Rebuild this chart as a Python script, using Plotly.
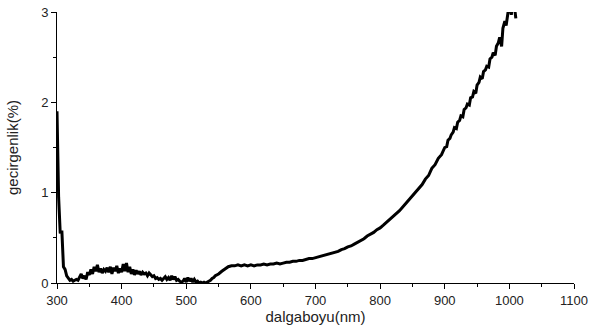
import numpy as np
import plotly.graph_objects as go

# wavelength grid (nm) for the noisy UV/visible part, step 2.5 nm
wl_low = [300 + 2.5 * i for i in range(100)]
tr_low = [1.90, 0.95, 0.55, 0.58, 0.18, 0.15, 0.08, 0.05, 0.03, 0.04,
          0.02, 0.03, 0.04, 0.03, 0.06, 0.10, 0.05, 0.08, 0.04, 0.12,
          0.09, 0.15, 0.10, 0.18, 0.13, 0.20, 0.12, 0.16, 0.11, 0.15,
          0.13, 0.17, 0.12, 0.18, 0.10, 0.17, 0.13, 0.19, 0.11, 0.16,
          0.12, 0.21, 0.13, 0.22, 0.12, 0.18, 0.10, 0.15, 0.09, 0.14,
          0.10, 0.13, 0.09, 0.12, 0.10, 0.11, 0.08, 0.11, 0.09, 0.07,
          0.08, 0.05, 0.06, 0.04, 0.05, 0.03, 0.05, 0.07, 0.04, 0.06,
          0.03, 0.08, 0.04, 0.07, 0.03, 0.04, 0.02, 0.01, 0.02, 0.05,
          0.01, 0.06, 0.02, 0.05, 0.01, 0.04, 0.01, 0.02, 0.00, 0.01,
          0.00, 0.01, 0.00, 0.01, 0.02, 0.03, 0.05, 0.06, 0.08, 0.09]

# smoother visible / NIR part
wl_high = [550, 555, 560, 565, 570, 575, 580, 585, 590, 595,
           600, 605, 610, 615, 620, 625, 630, 635, 640, 645,
           650, 655, 660, 665, 670, 675, 680, 685, 690, 695,
           700, 705, 710, 715, 720, 725, 730, 735, 740, 745,
           750, 755, 760, 765, 770, 775, 780, 785, 790, 795,
           800, 805, 810, 815, 820, 825, 830, 835, 840, 845,
           850, 855, 860, 865, 870, 875, 880, 885, 890, 895,
           900, 903, 905, 908, 910, 913, 915, 918, 920, 923,
           925, 928, 930, 933, 935, 938, 940, 943, 945, 948,
           950, 953, 955, 958, 960, 963, 965, 968, 970, 973,
           975, 978, 980, 983, 985, 988, 990, 993, 995, 998,
           1000, 1003, 1005, 1008, 1010]
tr_high = [0.10, 0.13, 0.16, 0.18, 0.19, 0.19, 0.20, 0.19, 0.20, 0.19,
           0.20, 0.19, 0.20, 0.20, 0.21, 0.20, 0.21, 0.21, 0.22, 0.21,
           0.22, 0.23, 0.23, 0.24, 0.24, 0.25, 0.25, 0.26, 0.27, 0.27,
           0.28, 0.29, 0.30, 0.31, 0.32, 0.33, 0.34, 0.35, 0.37, 0.38,
           0.40, 0.41, 0.43, 0.45, 0.47, 0.49, 0.52, 0.54, 0.56, 0.59,
           0.61, 0.64, 0.67, 0.70, 0.73, 0.77, 0.80, 0.84, 0.88, 0.92,
           0.96, 1.00, 1.05, 1.09, 1.15, 1.19, 1.27, 1.31, 1.38, 1.42,
           1.50, 1.51, 1.58, 1.60, 1.64, 1.67, 1.72, 1.71, 1.78, 1.80,
           1.85, 1.84, 1.92, 1.94, 1.98, 1.97, 2.05, 2.06, 2.12, 2.10,
           2.19, 2.22, 2.28, 2.26, 2.34, 2.36, 2.40, 2.39, 2.48, 2.50,
           2.55, 2.52, 2.62, 2.66, 2.72, 2.62, 2.82, 2.90, 2.85, 3.02,
           3.10, 2.97, 3.10, 3.05, 2.93]

wavelength = wl_low + wl_high
transmittance = tr_low + tr_high

FONT = "Liberation Sans, Arial, sans-serif"

fig = go.Figure()
fig.add_trace(go.Scatter(
    x=wavelength, y=transmittance, mode="lines",
    line=dict(color="black", width=3), showlegend=False,
))

axis_common = dict(
    showgrid=False, zeroline=False, showline=True, linecolor="black",
    linewidth=1, ticks="outside", ticklen=5, tickcolor="black",
    automargin=False,
    tickfont=dict(family=FONT, size=13, color="#222"),
)

fig.update_layout(
    width=592, height=334,
    margin=dict(l=57, r=18, t=12, b=51),
    paper_bgcolor="white", plot_bgcolor="white",
    xaxis=dict(range=[300, 1100], dtick=100, tick0=300,
               minor=dict(ticks="outside", ticklen=3, dtick=50, tickcolor="black"),
               title=dict(text="dalgaboyu(nm)", font=dict(family=FONT, size=15, color="#222"),
                          standoff=4),
               **axis_common),
    yaxis=dict(range=[0, 3], dtick=1,
               minor=dict(ticks="outside", ticklen=3, dtick=0.5, tickcolor="black"),
               title=dict(text="gecirgenlik(%)", font=dict(family=FONT, size=15, color="#222"),
                          standoff=18),
               **axis_common),
)

# remove the default 8px body margin so the figure sits at the page origin
fig.write_html("out.html", config={"displayModeBar": False},
               post_script="document.body.style.margin='0';")
